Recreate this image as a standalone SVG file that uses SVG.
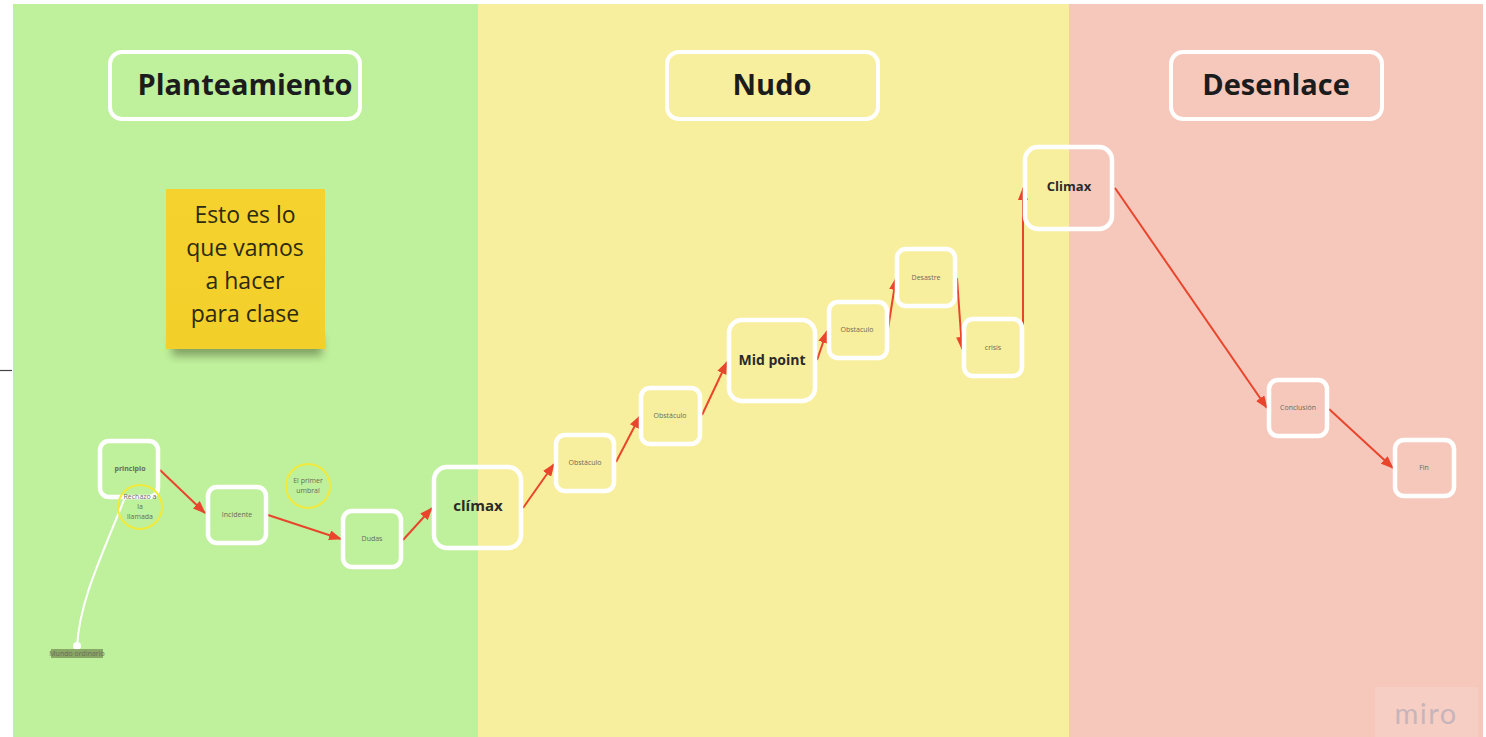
<svg xmlns="http://www.w3.org/2000/svg" width="1486" height="737" viewBox="0 0 1486 737">
<defs>
<marker id="ah" markerWidth="13" markerHeight="10" refX="12" refY="5" orient="auto" markerUnits="userSpaceOnUse">
<path d="M0,0 L13,5 L0,10 Z" fill="#e8452c"/>
</marker>
<linearGradient id="sticky" x1="0" y1="0" x2="0" y2="1">
<stop offset="0" stop-color="#f5d22e"/>
<stop offset="1" stop-color="#f3cf2a"/>
</linearGradient>
<filter id="shadow" x="-20%" y="-20%" width="140%" height="160%">
<feGaussianBlur stdDeviation="4"/>
</filter>
</defs>
<style>
.title{fill:none;stroke:#ffffff;stroke-width:4}
.tt{font-family:"Open Sans","Noto Sans",sans-serif;font-weight:bold;font-size:29px;fill:#1c1c1c;text-anchor:middle}
.box{fill:none;stroke:#ffffff;stroke-width:4.5}
.sm{font-family:"Open Sans","Noto Sans",sans-serif;font-size:7px;fill:#6b6b5a;text-anchor:middle}
.big{font-family:"Open Sans","Noto Sans",sans-serif;font-weight:bold;fill:#2a2a2a;text-anchor:middle}
.ring{fill:none;stroke:#f2ea3a;stroke-width:2}
.con{fill:none;stroke:#e8452c;stroke-width:2;marker-end:url(#ah)}
</style>
<rect x="0" y="0" width="1486" height="737" fill="#ffffff"/>
<rect x="13" y="4" width="465" height="733" fill="#bff09c"/>
<rect x="478" y="4" width="591" height="733" fill="#f8ef9e"/>
<rect x="1069" y="4" width="414" height="733" fill="#f6c8bb"/>
<line x1="0" y1="370.5" x2="12" y2="370.5" stroke="#444" stroke-width="1.2"/>

<g id="t-planteamiento"><rect class="title" x="110" y="52" width="250" height="67" rx="12"/><text class="tt" x="245" y="95">Planteamiento</text></g>
<g id="t-nudo"><rect class="title" x="667" y="52" width="211" height="67" rx="12"/><text class="tt" x="772" y="95">Nudo</text></g>
<g id="t-desenlace"><rect class="title" x="1171" y="52" width="211" height="67" rx="12"/><text class="tt" x="1276" y="95">Desenlace</text></g>

<g id="sticky-note">
<rect x="172" y="336" width="150" height="20" fill="#3a4a20" opacity="0.45" filter="url(#shadow)"/>
<rect x="166" y="189" width="159" height="160" fill="url(#sticky)"/>
<g font-family="'Open Sans','Noto Sans',sans-serif" font-size="23" fill="#2e2a10" text-anchor="middle">
<text x="245" y="223">Esto es lo</text>
<text x="245" y="256">que vamos</text>
<text x="245" y="289">a hacer</text>
<text x="245" y="322">para clase</text>
</g>
</g>

<g id="connectors">
<path d="M77,646 C80,600 100,560 126,495" fill="none" stroke="#ffffff" stroke-width="2"/>
<circle cx="77" cy="646" r="4" fill="#ffffff"/>
<line class="con" x1="160" y1="470" x2="205" y2="513"/>
<line class="con" x1="268" y1="515" x2="341" y2="539"/>
<line class="con" x1="403" y1="540" x2="432" y2="508"/>
<line class="con" x1="523" y1="508" x2="554" y2="464"/>
<line class="con" x1="616" y1="462" x2="640" y2="416"/>
<line class="con" x1="702" y1="415" x2="727" y2="362"/>
<line class="con" x1="817" y1="360" x2="827" y2="331"/>
<line class="con" x1="888" y1="329" x2="896" y2="278"/>
<line class="con" x1="957" y1="278" x2="962" y2="349"/>
<line class="con" x1="1023" y1="347" x2="1023" y2="188"/>
<line class="con" x1="1115" y1="188" x2="1267" y2="408"/>
<line class="con" x1="1329" y1="409" x2="1393" y2="468"/>
</g>

<g id="n-mundo"><rect x="51" y="649" width="52" height="9" fill="#7f9a5c" opacity="0.85"/><text class="sm" x="77" y="656" font-size="6.5" fill="#1f2a16">Mundo ordinario</text></g>
<g id="n-principio"><rect class="box" x="100" y="441" width="58" height="56" rx="9"/><text class="sm" x="130" y="471" font-weight="bold" fill="#3c3c30">principio</text></g>
<g id="n-rechazo"><circle class="ring" cx="140" cy="507" r="22"/><text class="sm" x="140" y="499" fill="#a3a39a">Rechazo a</text><text class="sm" x="140" y="509" fill="#8a8a7e">la</text><text class="sm" x="140" y="519" fill="#8a8a7e">llamada</text></g>
<g id="n-incidente"><rect class="box" x="208" y="487" width="58" height="56" rx="9"/><text class="sm" x="237" y="517">Incidente</text></g>
<g id="n-umbral"><circle class="ring" cx="308" cy="486" r="22"/><text class="sm" x="308" y="483">El primer</text><text class="sm" x="308" y="493">umbral</text></g>
<g id="n-dudas"><rect class="box" x="343" y="511" width="58" height="56" rx="9"/><text class="sm" x="372" y="541">Dudas</text></g>
<g id="n-climax1"><rect class="box" x="434" y="467" width="87" height="81" rx="13"/><text class="big" x="478" y="511" font-size="15">clímax</text></g>
<g id="n-obst1"><rect class="box" x="556" y="435" width="58" height="56" rx="9"/><text class="sm" x="585" y="465">Obstáculo</text></g>
<g id="n-obst2"><rect class="box" x="641" y="388" width="59" height="56" rx="9"/><text class="sm" x="670" y="418">Obstáculo</text></g>
<g id="n-midpoint"><rect class="box" x="729" y="320" width="86" height="81" rx="13"/><text class="big" x="772" y="365" font-size="14">Mid point</text></g>
<g id="n-obst3"><rect class="box" x="829" y="302" width="58" height="56" rx="9"/><text class="sm" x="857" y="332">Obstaculo</text></g>
<g id="n-desastre"><rect class="box" x="897" y="249" width="58" height="57" rx="9"/><text class="sm" x="926" y="280">Desastre</text></g>
<g id="n-crisis"><rect class="box" x="964" y="319" width="58" height="57" rx="9"/><text class="sm" x="993" y="350">crisis</text></g>
<g id="n-climax2"><rect class="box" x="1025" y="147" width="87" height="82" rx="13"/><text class="big" x="1069" y="191" font-size="13">Climax</text></g>
<g id="n-conclusion"><rect class="box" x="1269" y="380" width="58" height="56" rx="9"/><text class="sm" x="1298" y="410">Conclusión</text></g>
<g id="n-fin"><rect class="box" x="1395" y="440" width="59" height="56" rx="9"/><text class="sm" x="1424" y="470">Fin</text></g>

<g id="miro"><rect x="1375" y="687" width="103" height="50" fill="#ffffff" opacity="0.12"/><text x="1426" y="724" font-family="Lato,'Open Sans',sans-serif" font-size="29" fill="#c7b5bc" text-anchor="middle" letter-spacing="1.5">miro</text></g>
</svg>
